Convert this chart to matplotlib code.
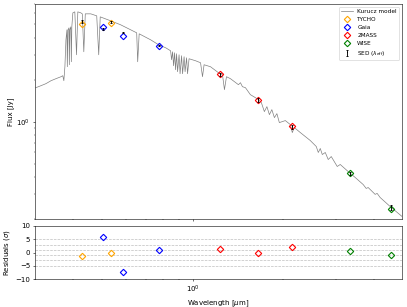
import numpy as np
import matplotlib
matplotlib.use('Agg')
import matplotlib.pyplot as plt

# Kurucz model spectrum (wavelength in um, flux in Jy)
model_wave = [0.302, 0.314, 0.326, 0.339, 0.352, 0.366, 0.371, 0.374, 0.377, 0.380,
              0.383, 0.384, 0.386, 0.389, 0.390, 0.3915, 0.3945, 0.396, 0.3975, 0.4006,
              0.4067, 0.412, 0.4161, 0.4257, 0.4306, 0.4356, 0.4406, 0.4594, 0.4808, 0.4882,
              0.4938, 0.5352, 0.5775, 0.6233, 0.6525, 0.6575, 0.665, 0.7258, 0.7716, 0.8141,
              0.8455, 0.852, 0.8585, 0.8651, 0.8717, 0.8784, 0.8851, 0.8919, 0.9021, 0.909,
              0.9196, 0.9266, 0.9374, 0.9445, 0.9553, 0.9625, 0.9736, 1.023, 1.063, 1.079,
              1.092, 1.147, 1.219, 1.257, 1.276, 1.296, 1.336, 1.420, 1.442, 1.464,
              1.498, 1.556, 1.617, 1.654, 1.692, 1.731, 1.765, 1.799, 1.833, 1.869,
              1.905, 1.941, 2.032, 2.111, 2.143, 2.176, 2.279, 2.459, 2.574, 2.614,
              2.654, 2.695, 2.757, 2.820, 2.886, 3.021, 3.091, 3.311, 3.465, 3.684,
              3.769, 3.827, 3.945, 4.036, 4.098, 4.193, 4.560, 4.960]
model_flux = [1.753, 1.812, 1.873, 1.967, 2.034, 2.102, 2.137, 1.967, 2.479, 3.871,
              4.566, 2.479, 4.566, 4.719, 2.562, 4.566, 4.797, 2.692, 4.797, 6.046,
              6.145, 3.022, 6.145, 6.046, 5.947, 3.176, 5.947, 5.947, 5.753, 3.022,
              5.657, 5.297, 4.959, 4.566, 4.345, 2.692, 4.274, 3.871, 3.565, 3.393,
              3.228, 2.783, 3.176, 2.520, 3.124, 2.359, 3.073, 2.283, 3.022, 2.208,
              2.973, 2.208, 2.924, 2.283, 2.876, 2.208, 2.829, 2.737, 2.648, 2.102,
              2.562, 2.479, 2.245, 2.173, 1.696, 2.102, 2.034, 1.842, 1.904, 1.782,
              1.753, 1.561, 1.486, 1.438, 1.368, 1.180, 1.281, 1.122, 1.219, 1.068,
              1.141, 0.984, 1.017, 0.952, 0.834, 0.906, 0.834, 0.731, 0.662, 0.600,
              0.641, 0.580, 0.600, 0.534, 0.561, 0.476, 0.492, 0.431, 0.397, 0.353,
              0.331, 0.336, 0.315, 0.300, 0.305, 0.285, 0.242, 0.208]

surveys = ['TYCHO', 'Gaia', '2MASS', 'WISE']
survey_colors = ['orange', 'blue', 'red', 'green']
band_survey = ['TYCHO', 'TYCHO', 'Gaia', 'Gaia', 'Gaia', '2MASS', '2MASS', '2MASS', 'WISE', 'WISE']
band_wave = [0.429, 0.535, 0.503, 0.586, 0.772, 1.23, 1.654, 2.14, 3.34, 4.56]
model_phot = [5.04, 5.12, 4.80, 4.13, 3.51, 2.21, 1.44, 0.936, 0.424, 0.234]
obs_flux = [5.21, 5.21, 4.64, 4.35, 3.51, 2.17, 1.44, 0.921, 0.424, 0.242]
obs_err = [0.12, 0.10, 0.05, 0.04, 0.04, 0.05, 0.05, 0.03, 0.012, 0.01]
residuals = [-1.5, -0.2, 6.0, -7.5, 1.0, 1.3, -0.2, 1.9, 0.6, -0.9]


def make_plot():
    fig = plt.figure(figsize=(8.14, 6.14), dpi=50)
    ax = fig.add_axes([0.086, 0.287, 0.902, 0.700])
    ax_r = fig.add_axes([0.086, 0.091, 0.902, 0.173], sharex=ax)

    ax.plot(model_wave, model_flux, color='gray', lw=1.0, label='Kurucz model', zorder=1)

    for s, c in zip(surveys, survey_colors):
        idx = [i for i in range(len(band_survey)) if band_survey[i] == s]
        w = [band_wave[i] for i in idx]
        ax.plot(w, [model_phot[i] for i in idx], 'D', mfc='none', mec=c,
                ms=6.5, mew=1.6, label=s, zorder=3)
        ax_r.plot(w, [residuals[i] for i in idx], 'D', mfc='none', mec=c,
                  ms=6.5, mew=1.6, zorder=3)

    ax.errorbar(band_wave, obs_flux, yerr=obs_err, fmt=',', color='k', ecolor='k',
                capsize=1.5, elinewidth=1.3, capthick=1.3,
                label=r'SED ($\lambda_{\rm eff}$)', zorder=4)

    ax.set_xscale('log')
    ax.set_yscale('log')
    ax.set_xlim(0.3, 4.96)
    ax.set_ylim(0.2, 7.0)
    ax.set_ylabel('Flux [Jy]')
    ax.tick_params(labelbottom=False)
    ax.legend(loc='upper right', fontsize='small')

    for yy in [5, 3, 1, -1, -3, -5]:
        ax_r.axhline(yy, color='gray', ls='--', lw=1.0, alpha=0.5, zorder=1)
    ax_r.set_ylim(-10, 10)
    ax_r.set_yticks([-10, -5, 0, 5, 10])
    ax_r.set_ylabel(r'Residuals ($\sigma$)')
    ax_r.set_xlabel(r'Wavelength [$\mu$m]')

    fig.savefig('out.png', dpi=50)


if __name__ == '__main__':
    make_plot()
